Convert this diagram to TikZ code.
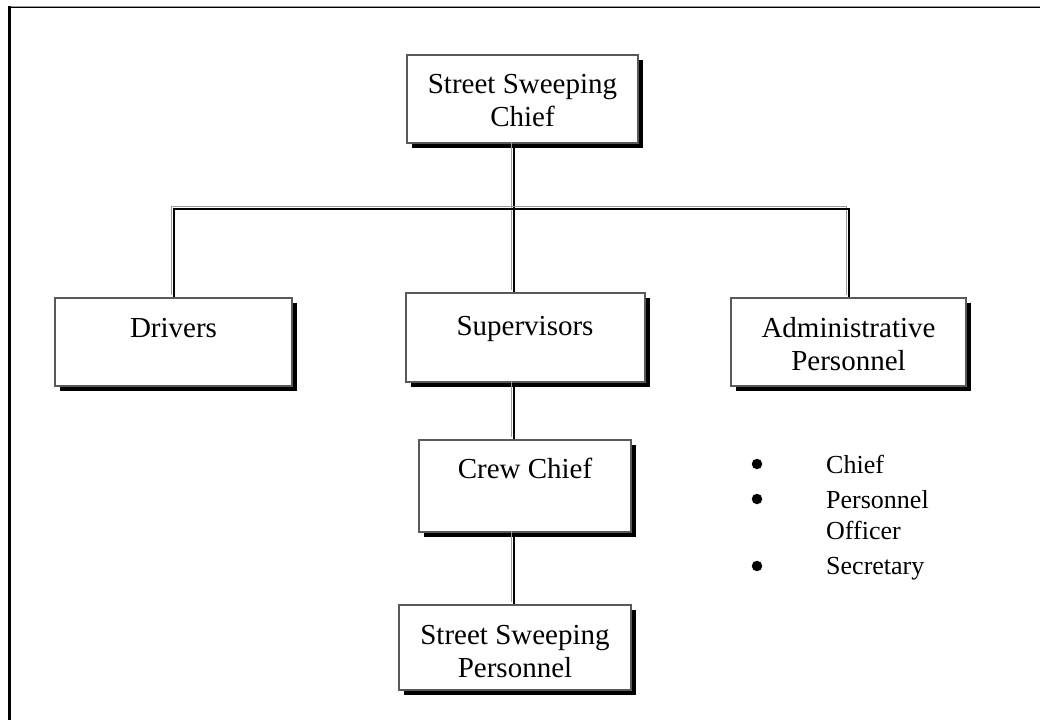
\documentclass[tikz,border=0pt]{standalone}
\usepackage{fontspec}
\setmainfont{Liberation Serif}
\begin{document}
\begin{tikzpicture}[x=1pt,y=-1pt,
  orgbox/.style={draw=black!65, line width=2pt, fill=white, inner sep=0pt,
    preaction={draw=none, fill=black, transform canvas={xshift=4.5pt, yshift=-4.5pt}}},
  conn/.style={draw=black, line width=1.1pt,
    preaction={draw=black!40, line width=1.1pt, transform canvas={xshift=-2.2pt, yshift=2.2pt}}},
  lbl/.style={font=\fontsize{29}{33}\selectfont, align=center, inner sep=0pt, anchor=base},
  blt/.style={font=\fontsize{26}{31}\selectfont, inner sep=0pt, anchor=base west, align=left},
  dot/.style={circle, fill=black, inner sep=0pt, minimum size=10.5pt}
]
\useasboundingbox (0,0) rectangle (1040,720);
% frame
\draw[black!40, line width=1pt] (9,6) -- (1040,6);
\draw[black, line width=1pt] (11,7.5) -- (1040,7.5);
\draw[black, line width=3pt] (9.5,6) -- (9.5,720);

% coordinates of the connectors
\coordinate (hl) at (174,209);
\coordinate (hm) at (514,209);
\coordinate (hr) at (849,209);

% boxes
\path
  (522.5,99)  node[orgbox, minimum width=231pt, minimum height=88pt] (chief) {}
  (173.5,342) node[orgbox, minimum width=237pt, minimum height=88pt] (drivers) {}
  (525.5,337.5) node[orgbox, minimum width=239pt, minimum height=89pt] (sup) {}
  (848.5,342) node[orgbox, minimum width=235pt, minimum height=88pt] (admin) {}
  (525,486)  node[orgbox, minimum width=212pt, minimum height=92pt] (crew) {}
  (515,647.5) node[orgbox, minimum width=232pt, minimum height=85pt] (ssp) {};

% connectors
\draw[conn] (chief.south -| hm) -- (sup.north -| hm);
\draw[conn] (drivers.north -| hl) -- (hl) -- (hr) -- (admin.north -| hr);
\draw[conn] (sup.south -| hm) -- (crew.north -| hm);
\draw[conn] (crew.south -| hm) -- (ssp.north -| hm);

% labels (anchor base = baseline of last line)
\node[lbl] (tchief) at (522.5,126) {Street Sweeping\\Chief};
\node[lbl] (tdrivers) at (173.5,337) {Drivers};
\node[lbl] (tsup) at (525,335) {Supervisors};
\node[lbl] (tadmin) at (848.5,370) {Administrative\\Personnel};
\node[lbl] (tcrew) at (525,478) {Crew Chief};
\node[lbl] (tssp) at (515,677) {Street Sweeping\\Personnel};

% bullet list
\node[dot] (b1) at (757,464) {};
\node[dot] (b2) at (757,499) {};
\node[dot] (b3) at (757,566) {};
\node[blt] (l1) at (826,473) {Chief};
\node[blt] (l2) at (826,539) {Personnel\\Officer};
\node[blt] (l3) at (826,574) {Secretary};
\end{tikzpicture}
\end{document}
